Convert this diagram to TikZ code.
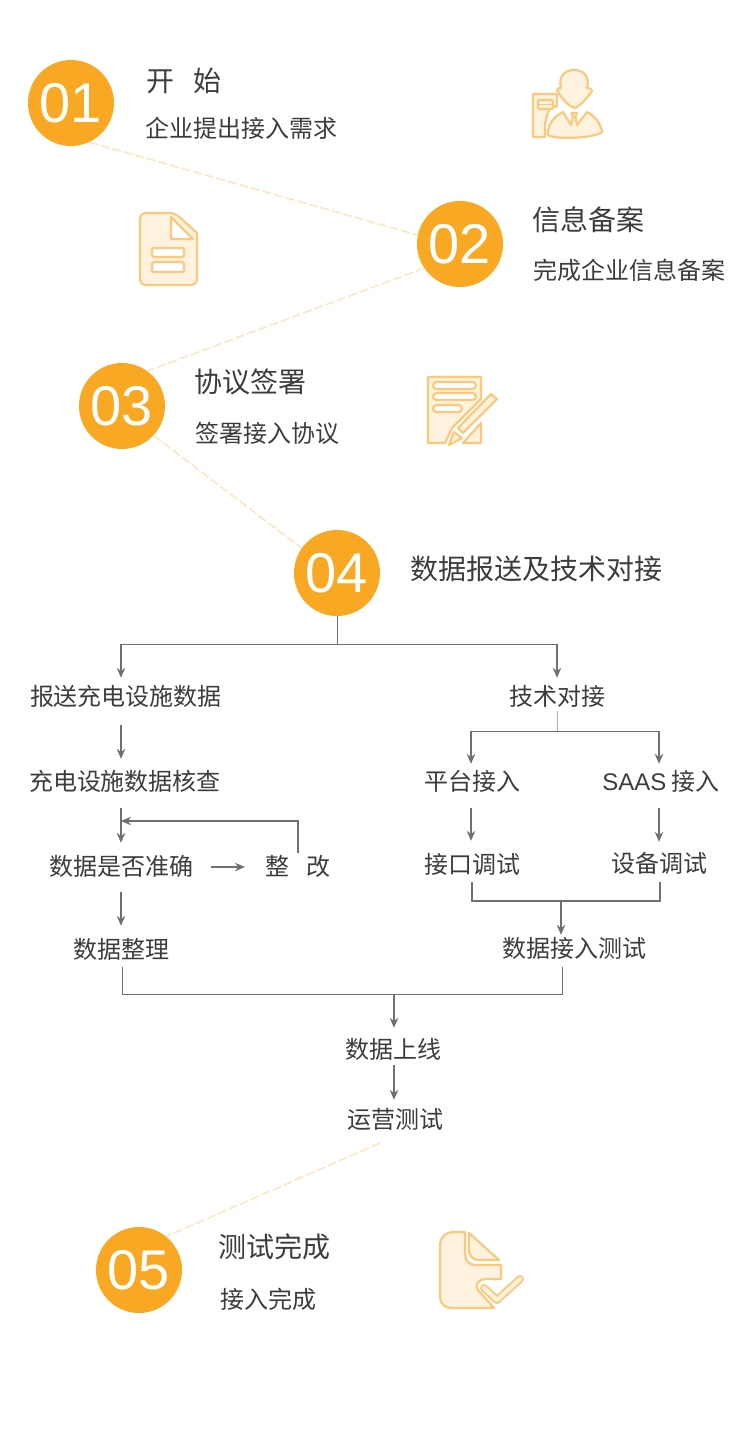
\documentclass[tikz,border=0pt]{standalone}
\usepackage{fontspec}
\setmainfont{Noto Sans CJK SC}
\newfontfamily\numfont{Liberation Sans}
\usetikzlibrary{arrows,arrows.meta,positioning}
\definecolor{stepcolor}{HTML}{F8A823}
\definecolor{iconline}{HTML}{FBC97C}
\definecolor{iconfill}{HTML}{FFF3E0}
\definecolor{linkcolor}{HTML}{FDE5BF}
\definecolor{flowcolor}{HTML}{707070}
\definecolor{textcolor}{HTML}{3C3C3C}
\tikzstyle{stepdot} = [circle, minimum size=86pt, inner sep=0pt, text height=39.4pt, text depth=0pt, fill=stepcolor, text=white, font=\numfont\fontsize{56}{56}\selectfont]
\tikzstyle{title} = [inner sep=0pt, text=textcolor, font=\fontsize{28}{28}\selectfont]
\tikzstyle{sub} = [inner sep=0pt, text=textcolor, font=\fontsize{24}{24}\selectfont]
\tikzstyle{flow} = [inner sep=0pt, minimum height=46pt, text=textcolor, font=\fontsize{24}{24}\selectfont]
\tikzstyle{link} = [draw=linkcolor, line width=1.5pt, dash pattern=on 9pt off 3pt]
\tikzstyle{arrow} = [draw=flowcolor, line width=1.4pt, -{Stealth[length=10pt,width=8.5pt]}]
\tikzstyle{line} = [draw=flowcolor, line width=1pt]
\tikzstyle{thickline} = [draw=flowcolor, line width=1.6pt]
\tikzstyle{icon} = [draw=iconline, fill=iconfill, line width=2.2pt, line join=round]
\tikzstyle{iconhole} = [draw=iconline, fill=white, line width=2.2pt, line join=round, rounded corners=2pt]
\begin{document}
\begin{tikzpicture}[x=1pt,y=-1pt]
\useasboundingbox (0,0) rectangle (750,1441);

\node (s1) [stepdot] at (71,103) {01};
\node (s2) [stepdot] at (460,244) {02};
\node (s3) [stepdot] at (122,406) {03};
\node (s4) [stepdot] at (337,573) {04};
\node (s5) [stepdot] at (139,1270) {05};

\node (t1) [title] at (184,81) {开\hspace{19pt}始};
\node (d1) [sub] at (241,128) {企业提出接入需求};
\node (t2) [title] at (588,220) {信息备案};
\node (d2) [sub] at (629,270) {完成企业信息备案};
\node (t3) [title] at (250,382) {协议签署};
\node (d3) [sub] at (267,433) {签署接入协议};
\node (t4) [title] at (536,569) {数据报送及技术对接};
\node (t5) [title] at (274,1247) {测试完成};
\node (d5) [sub] at (268,1299) {接入完成};

% left branch
\node (report) [flow] at (126,696) {报送充电设施数据};
\node (check) [flow] at (125,781) {充电设施数据核查};
\node (right) [flow] at (121,866) {数据是否准确};
\node (fix) [flow] at (298,866) {整\hspace{17pt}改};
\node (sort) [flow] at (121,949) {数据整理};

% right branch
\node (tech) [flow] at (557,696) {技术对接};
\node (plat) [flow] at (472,781) {平台接入};
\node (saas) [flow] at (661,781) {{\numfont SAAS} 接入};
\node (port) [flow] at (472,864) {接口调试};
\node (dev) [flow] at (659,863) {设备调试};
\node (test) [flow] at (574,948) {数据接入测试};

\node (online) [flow] at (393,1049) {数据上线};
\node (run) [flow] at (395,1119) {运营测试};

\coordinate (lx) at (121,0);
\coordinate (rx) at (471,0);
\coordinate (sx) at (659,0);
\coordinate (mx) at (561,0);
\coordinate (cx) at (394,0);
\coordinate (top) at (0,644);
\coordinate (mid) at (0,731);
\coordinate (loop) at (0,821);
\coordinate (join) at (0,901);
\coordinate (bot) at (0,994);
\coordinate (runend) at (380,1143);

% links between steps
\draw [link] (s1.-65) -- (s2.168);
\draw [link] (s2.214) -- (s3.54);
\draw [link] (s3.-43) -- (s4.145);
\draw [link] (runend) -- (s5.51);

% flow
\draw [line] (s4.south) -- (s4.south |- top);
\draw [line] (lx |- top) -- (tech.north |- top);
\draw [arrow, shorten >=-5pt] (lx |- top) -- (report.north -| lx);
\draw [arrow, shorten >=-5pt] (tech.north |- top) -- (tech.north);
\draw [arrow, shorten <=6pt, shorten >=-1pt] (report.south -| lx) -- (check.north -| lx);
\draw [arrow, shorten <=4pt] (check.south -| lx) -- (right.north -| lx);
\draw [arrow, shorten <=3pt] (right.south -| lx) -- (sort.north -| lx);
\draw [arrow] (right.east) ++(18,1) -- (245,867);
\draw [arrow] (fix.north) ++(0,10) |- (lx |- loop);

\draw [line, draw=flowcolor!55, shorten <=-8pt] (tech.south) -- (tech.south |- mid);
\draw [line] (rx |- mid) -- (sx |- mid);
\draw [arrow, shorten >=-6pt] (rx |- mid) -- (plat.north -| rx);
\draw [arrow, shorten >=-6pt] (sx |- mid) -- (saas.north -| sx);
\draw [arrow, shorten <=4pt] (plat.south -| rx) -- (port.north -| rx);
\draw [arrow, shorten <=4pt, shorten >=-2pt] (saas.south -| sx) -- (dev.north -| sx);
\draw [thickline] (port.south) ++(0,-5) |- (join -| 660,0) -- (660,882);
\draw [arrow, shorten >=-10pt] (mx |- join) -- (test.north -| mx);

\draw [line] (sort.south) ++(1,-5) |- (bot -| 562,0) -- (562,967);
\draw [arrow, shorten >=-2pt] (cx |- bot) -- (online.north -| cx);
\draw [arrow, shorten <=-7pt, shorten >=-4pt] (online.south -| cx) -- (run.north -| cx);

% icon 1
\draw [icon] (533,94) -- (557,94) -- (557,103) to[out=110,in=-40] (556,107) to[out=135,in=80] (545,124) -- (545,137) -- (533,137) -- cycle;
\draw [iconhole, fill=iconfill, rounded corners=1pt] (538,100) rectangle (553,109);
\draw [iconline, line width=1.5pt] (538,104.5) -- (553,104.5);
\draw [icon] (561,88) .. controls (558,76) and (565,70) .. (574,70) .. controls (584,70) and (590,77) .. (587,88) .. controls (590,88) and (592,89) .. (592,91) .. controls (588,97) and (580,106) .. (575,108) .. controls (568,106) and (562,99) .. (557,90) .. controls (558,88) and (560,88) .. (561,88) -- cycle;
\draw [icon] (548,132) .. controls (549,122) and (555,116) .. (563,112) -- (571,125) -- (573,117) -- (571.5,113) -- (577,113) -- (575.5,117) -- (577,125) -- (587,112) .. controls (595,116) and (601,124) .. (602,132) .. controls (596,138) and (555,140) .. (548,135) -- cycle;

% icon 2
\draw [icon, rounded corners=6pt] (140,213) -- (175,213) [sharp corners] -- (197,233) [rounded corners=6pt] -- (197,285) -- (140,285) -- cycle;
\draw [iconhole, rounded corners=0pt] (171,217) -- (193,239) -- (171,239) -- cycle;
\draw [iconhole] (152,248) rectangle (184,257);
\draw [iconhole] (152,262) rectangle (184,272);

% icon 3
\draw [icon] (428,377) -- (481,377) -- (481,399) -- (452,428) -- (445,443) -- (428,443) -- cycle;
\draw [icon] (481,423) -- (481,443) -- (463,443) -- cycle;
\draw [iconhole, rounded corners=3.5pt] (433,382) rectangle (476,389);
\draw [iconhole, rounded corners=3.5pt] (433,393) rectangle (476,400);
\draw [iconhole, rounded corners=3.5pt] (433,405) rectangle (462,412);
\draw [iconhole, rounded corners=0pt, fill=iconfill] (491,394) -- (497,399) -- (463,433) -- (458,428) -- cycle;
\draw [iconhole, rounded corners=0pt, fill=iconfill] (454,432) -- (462,438) -- (449,445) -- cycle;

% icon 4
\draw [icon] (440,1246) .. controls (440,1237) and (446,1232) .. (453,1232) -- (465,1232) -- (465,1254) .. controls (465,1261) and (469,1265) .. (476,1265) -- (501,1265) -- (501,1279) -- (485,1279) .. controls (479,1279) and (474,1285) .. (478,1290) -- (494,1308) -- (452,1308) .. controls (445,1308) and (440,1304) .. (440,1297) -- cycle;
\draw [icon] (469,1233) -- (499,1260) -- (479,1260) .. controls (473,1260) and (469,1256) .. (469,1250) -- cycle;
\draw [iconline, line width=8pt, line cap=round, line join=round] (484,1288) -- (497,1300) -- (520,1279);
\draw [iconfill, line width=4pt, line cap=round, line join=round] (484,1288) -- (497,1300) -- (520,1279);

\end{tikzpicture}
\end{document}
